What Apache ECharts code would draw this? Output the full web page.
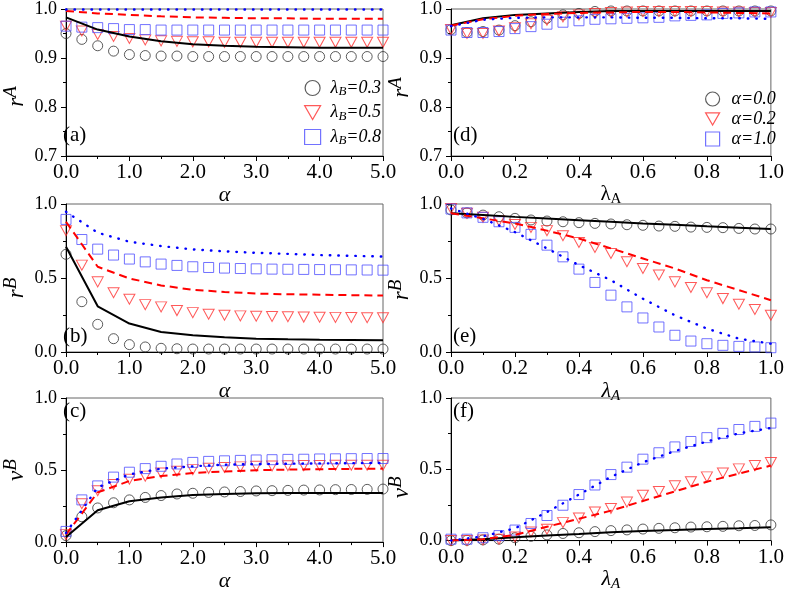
<!DOCTYPE html>
<html><head><meta charset="utf-8">
<script src="https://cdn.jsdelivr.net/npm/echarts@6/dist/echarts.min.js"></script>
<style>html,body{margin:0;padding:0;background:#fff}#c{width:787px;height:593px}</style>
</head><body><div id="c"></div>
<script>
// x positions
const alphaPts = [0,0.25,0.5,0.75,1,1.25,1.5,1.75,2,2.25,2.5,2.75,3,3.25,3.5,3.75,4,4.25,4.5,4.75,5];
const alphaLine = [0,0.5,1,1.5,2,2.5,3,3.5,4,4.5,5];
const lamPts = [0,0.05,0.1,0.15,0.2,0.25,0.3,0.35,0.4,0.45,0.5,0.55,0.6,0.65,0.7,0.75,0.8,0.85,0.9,0.95,1];
const lamLine = [0,0.1,0.2,0.3,0.4,0.5,0.6,0.7,0.8,0.9,1];

// tick labels
const alphaTicks = ['0.0','1.0','2.0','3.0','4.0','5.0'];
const lamTicks = ['0.0','0.2','0.4','0.6','0.8','1.0'];

// legends
const legendA = ['λB=0.3','λB=0.5','λB=0.8'];
const legendD = ['α=0.0','α=0.2','α=1.0'];

// panel (a) r^A vs alpha
const aCirc = [0.950,0.938,0.925,0.914,0.907,0.905,0.904,0.904,0.903,0.903,0.903,0.903,0.903,0.903,0.903,0.903,0.903,0.903,0.903,0.903,0.903];
const aTri  = [0.965,0.955,0.948,0.944,0.940,0.937,0.935,0.934,0.933,0.933,0.932,0.932,0.932,0.932,0.932,0.932,0.932,0.932,0.932,0.932,0.932];
const aSq   = [0.965,0.963,0.962,0.960,0.958,0.958,0.957,0.957,0.957,0.957,0.957,0.957,0.957,0.957,0.957,0.957,0.957,0.957,0.957,0.957,0.957];
const aSolid = [0.983,0.958,0.944,0.934,0.928,0.925,0.923,0.922,0.921,0.921,0.921];
const aDash  = [0.996,0.991,0.988,0.985,0.983,0.982,0.981,0.981,0.980,0.980,0.980];
const aDot   = [0.999,0.999,0.999,0.999,0.999,0.999,0.999,0.999,0.999,0.999,0.999];

// panel (b) r^B vs alpha
const bCirc = [0.66,0.34,0.187,0.09,0.05,0.034,0.025,0.022,0.02,0.02,0.02,0.02,0.02,0.02,0.02,0.02,0.02,0.02,0.02,0.02,0.02];
const bTri  = [0.82,0.587,0.474,0.40,0.357,0.32,0.305,0.28,0.266,0.255,0.248,0.244,0.242,0.24,0.238,0.236,0.235,0.234,0.233,0.232,0.232];
const bSq   = [0.896,0.76,0.695,0.655,0.628,0.609,0.594,0.585,0.576,0.571,0.567,0.564,0.562,0.560,0.559,0.558,0.557,0.556,0.555,0.554,0.553];
const bSolid = [0.711,0.309,0.192,0.135,0.113,0.10,0.09,0.086,0.083,0.081,0.079];
const bDash  = [0.88,0.576,0.497,0.45,0.42,0.406,0.395,0.39,0.387,0.384,0.381];
const bDot   = [0.948,0.806,0.745,0.716,0.693,0.68,0.67,0.663,0.655,0.65,0.645];

// panel (c) v^B vs alpha
const cCirc = [0.045,0.176,0.237,0.273,0.293,0.31,0.323,0.334,0.339,0.345,0.348,0.351,0.355,0.357,0.359,0.361,0.362,0.364,0.365,0.366,0.368];
const cTri  = [0.052,0.266,0.357,0.40,0.436,0.458,0.48,0.492,0.503,0.512,0.518,0.522,0.526,0.528,0.53,0.531,0.532,0.533,0.533,0.533,0.533];
const cSq   = [0.074,0.293,0.39,0.451,0.485,0.51,0.526,0.542,0.553,0.56,0.564,0.567,0.57,0.572,0.574,0.575,0.577,0.578,0.579,0.58,0.58];
const cSolid = [0.036,0.221,0.284,0.31,0.327,0.334,0.339,0.34,0.341,0.341,0.341];
const cDash  = [0.052,0.345,0.424,0.458,0.48,0.49,0.499,0.503,0.506,0.508,0.51];
const cDot   = [0.063,0.38,0.47,0.51,0.526,0.537,0.542,0.544,0.546,0.548,0.549];

// panel (d) r^A vs lambda_A
const dCirc = [0.958,0.952,0.954,0.957,0.966,0.974,0.981,0.988,0.991,0.995,0.996,0.996,0.996,0.996,0.996,0.996,0.996,0.996,0.996,0.996,0.996];
const dTri  = [0.958,0.950,0.950,0.955,0.962,0.970,0.977,0.984,0.988,0.991,0.993,0.994,0.995,0.995,0.995,0.995,0.995,0.994,0.994,0.993,0.993];
const dSq   = [0.957,0.952,0.952,0.954,0.960,0.964,0.969,0.973,0.976,0.979,0.980,0.981,0.982,0.983,0.986,0.987,0.988,0.991,0.992,0.994,0.994];
const dSolid = [0.967,0.981,0.988,0.991,0.994,0.996,0.996,0.996,0.996,0.996,0.996];
const dDash  = [0.966,0.979,0.986,0.990,0.992,0.993,0.994,0.994,0.993,0.992,0.991];
const dDot   = [0.965,0.978,0.982,0.983,0.983,0.983,0.982,0.982,0.981,0.981,0.980];

// panel (e) r^B vs lambda_A
const eCirc = [0.96,0.94,0.925,0.914,0.903,0.892,0.885,0.88,0.874,0.869,0.865,0.86,0.856,0.851,0.849,0.844,0.842,0.84,0.835,0.831,0.831];
const eTri  = [0.97,0.937,0.91,0.887,0.862,0.842,0.82,0.786,0.74,0.707,0.666,0.61,0.564,0.52,0.474,0.436,0.40,0.361,0.323,0.287,0.248];
const eSq   = [0.966,0.94,0.91,0.88,0.842,0.795,0.722,0.643,0.56,0.47,0.384,0.305,0.23,0.169,0.113,0.074,0.056,0.045,0.038,0.034,0.029];
const eSolid = [0.937,0.925,0.913,0.902,0.891,0.88,0.869,0.859,0.849,0.84,0.831];
const eDash  = [0.937,0.903,0.869,0.82,0.767,0.70,0.632,0.564,0.485,0.418,0.35];
const eDot   = [0.97,0.9,0.81,0.70,0.587,0.485,0.36,0.248,0.158,0.09,0.056];

// panel (f) v^B vs lambda_A
const fCirc = [0,0.002,0.005,0.01,0.02,0.03,0.04,0.05,0.055,0.063,0.07,0.075,0.081,0.086,0.09,0.095,0.097,0.1,0.104,0.106,0.11];
const fTri  = [0,0,0.005,0.01,0.025,0.06,0.08,0.126,0.158,0.2,0.225,0.27,0.318,0.345,0.384,0.413,0.447,0.474,0.503,0.526,0.548];
const fSq   = [0.01,0.01,0.02,0.035,0.074,0.12,0.176,0.248,0.323,0.39,0.463,0.515,0.571,0.616,0.657,0.695,0.722,0.752,0.779,0.801,0.824];
const fSolid = [0,0.01,0.023,0.036,0.047,0.059,0.068,0.074,0.081,0.086,0.093];
const fDash  = [0,0.01,0.04,0.097,0.153,0.21,0.278,0.345,0.413,0.47,0.526];
const fDot   = [0,0.03,0.086,0.2,0.323,0.447,0.549,0.628,0.695,0.752,0.79];

const FONT = '"Liberation Serif", "Times New Roman", Times, "DejaVu Serif", serif';
const C_CIRC = '#333333', C_TRI = '#ff3030', C_SQ = '#4f4fff';
const TRI_DOWN = 'path://M0,0 L10,0 L5,8.7 Z';

const panels = [
  {pts: alphaPts, line: alphaLine, ticks: alphaTicks, ymin: 0.7, ymax: 1.0, yint: 0.1, data: [aCirc,aTri,aSq,aSolid,aDash,aDot], names: legendA, xname: 'alpha', yname: ['r','A'], yshift: 14, label: '(a)', lx: 63, ly: 137},
  {pts: alphaPts, line: alphaLine, ticks: alphaTicks, ymin: 0, ymax: 1.0, yint: 0.5, data: [bCirc,bTri,bSq,bSolid,bDash,bDot], names: ['b1','b2','b3'], xname: 'alpha', yname: ['r','B'], yshift: 10, label: '(b)', lx: 63, ly: 338},
  {pts: alphaPts, line: alphaLine, ticks: alphaTicks, ymin: 0, ymax: 1.0, yint: 0.5, data: [cCirc,cTri,cSq,cSolid,cDash,cDot], names: ['c1','c2','c3'], xname: 'alpha', yname: ['v','B'], yshift: 0, label: '(c)', lx: 63, ly: 413},
  {pts: lamPts, line: lamLine, ticks: lamTicks, ymin: 0.7, ymax: 1.0, yint: 0.1, data: [dCirc,dTri,dSq,dSolid,dDash,dDot], names: legendD, xname: 'lamUp', yname: ['r','A'], yshift: 5, label: '(d)', lx: 453, ly: 137},
  {pts: lamPts, line: lamLine, ticks: lamTicks, ymin: 0, ymax: 1.0, yint: 0.5, data: [eCirc,eTri,eSq,eSolid,eDash,eDot], names: ['e1','e2','e3'], xname: 'lamIt', yname: ['r','B'], yshift: 12, label: '(e)', lx: 453, ly: 338},
  {pts: lamPts, line: lamLine, ticks: lamTicks, ymin: 0, ymax: 1.0, yint: 0.5, data: [fCirc,fTri,fSq,fSolid,fDash,fDot], names: ['f1','f2','f3'], xname: 'lamIt', yname: ['v','B'], yshift: 18, label: '(f)', lx: 453, ly: 413}
];

const gridPos = [
  {left: 61, top: 9, width: 322, height: 147},
  {left: 61, top: 204, width: 322, height: 148},
  {left: 61, top: 398, width: 322, height: 148},
  {left: 451, top: 9, width: 323, height: 147},
  {left: 451, top: 204, width: 323, height: 148},
  {left: 451, top: 398, width: 323, height: 148}
];

const grid = [], xAxis = [], yAxis = [], series = [], graphic = [];

const xNameText = {
  alpha: '{i|α}',
  lamUp: '{u|λ}{us|A}',
  lamIt: '{i|λ}{is|A}'
};
const nameRich = {
  i: {fontFamily: FONT, fontStyle: 'italic', fontSize: 22, color: '#000'},
  u: {fontFamily: FONT, fontSize: 21, color: '#000'},
  us: {fontFamily: FONT, fontSize: 15, color: '#000', padding: [10, 0, 0, 0]},
  is: {fontFamily: FONT, fontStyle: 'italic', fontSize: 15, color: '#000', padding: [10, 0, 0, 0]},
  r: {fontFamily: FONT, fontStyle: 'italic', fontSize: 23, color: '#000'},
  p: {fontFamily: FONT, fontStyle: 'italic', fontSize: 19, color: '#000', padding: [0, 0, 12, 0]}
};

panels.forEach((p, k) => {
  grid.push(Object.assign({show: true, borderColor: '#666', borderWidth: 1, backgroundColor: 'transparent'}, gridPos[k]));
  const isAlpha = p.ticks === alphaTicks;
  xAxis.push({
    type: 'value', gridIndex: k, min: 0, max: isAlpha ? 5 : 1, interval: isAlpha ? 1 : 0.2,
    axisLine: {show: true, onZero: false, lineStyle: {color: '#000', width: 1}},
    axisTick: {show: true, inside: false, length: 5, lineStyle: {color: '#000'}},
    minorTick: {show: true, splitNumber: 2, length: 3, lineStyle: {color: '#000'}},
    splitLine: {show: false},
    axisLabel: {
      fontFamily: FONT, fontSize: 21, color: '#000', margin: 6,
      formatter: function (v) {
        const idx = Math.round(v / (isAlpha ? 1 : 0.2));
        return p.ticks[idx];
      }
    },
    name: xNameText[p.xname], nameLocation: 'middle', nameGap: 15,
    nameTextStyle: {rich: nameRich}
  });
  yAxis.push({
    type: 'value', gridIndex: k, min: p.ymin, max: p.ymax, interval: p.yint,
    axisLine: {show: true, onZero: false, lineStyle: {color: '#000', width: 1}},
    axisTick: {show: true, inside: false, length: 5, lineStyle: {color: '#000'}},
    minorTick: {show: true, splitNumber: 2, length: 3, lineStyle: {color: '#000'}},
    splitLine: {show: false},
    axisLabel: {fontFamily: FONT, fontSize: 18, color: '#000', margin: 9, formatter: v => v.toFixed(1)},
    name: '{r|' + p.yname[0] + '}{p|' + p.yname[1] + '}', nameLocation: 'middle', nameGap: 34, nameRotate: 90,
    nameTextStyle: {rich: nameRich, padding: [0, 2 * p.yshift, 0, 0]}
  });
  const toPairs = (xs, ys) => xs.map((x, i) => [x, ys[i]]);
  const sc = [
    {sym: 'circle', col: C_CIRC, size: 10},
    {sym: TRI_DOWN, col: C_TRI, size: [11, 10]},
    {sym: 'rect', col: C_SQ, size: 10}
  ];
  sc.forEach((s, j) => {
    series.push({
      type: 'scatter', name: p.names[j], xAxisIndex: k, yAxisIndex: k,
      symbol: s.sym, symbolSize: s.size,
      itemStyle: {color: 'rgba(255,255,255,0)', borderColor: s.col, borderWidth: 1},
      data: toPairs(p.pts, p.data[j]), silent: true, z: 2
    });
  });
  const ls = [
    {col: '#000000', type: 'solid', w: 2, cap: 'butt'},
    {col: '#ff0000', type: [8, 5], w: 2, cap: 'butt'},
    {col: '#0000ff', type: [0.5, 8], w: 2.4, cap: 'round'}
  ];
  ls.forEach((l, j) => {
    series.push({
      type: 'line', name: 'L' + k + j, xAxisIndex: k, yAxisIndex: k,
      showSymbol: false, symbol: 'none', smooth: false,
      lineStyle: {color: l.col, type: l.type, width: l.w, cap: l.cap},
      data: toPairs(p.line, p.data[3 + j]), silent: true, z: 3
    });
  });
  graphic.push({
    type: 'text', left: p.lx, top: p.ly - 12,
    style: {text: p.label, fontFamily: FONT, fontSize: 21, fill: '#000'}
  });
});

const legendFmtA = name => '{f|λ}{s|B}{l|' + name.slice(2) + '}';
const legendRich = {
  f: {fontFamily: FONT, fontStyle: 'italic', fontSize: 18, color: '#000', padding: [0, 0, 0, 5], lineHeight: 20},
  l: {fontFamily: FONT, fontStyle: 'italic', fontSize: 18, color: '#000', lineHeight: 20},
  s: {fontFamily: FONT, fontStyle: 'italic', fontSize: 13, color: '#000', padding: [8, 0, 0, 0]}
};
const legend = [
  {orient: 'vertical', itemWidth: 16, itemHeight: 15, selectedMode: false, itemStyle: {borderWidth: 1.2},
   data: legendA, left: 299, top: 74, itemGap: 5, formatter: legendFmtA,
   textStyle: {fontFamily: FONT, fontStyle: 'italic', fontSize: 18, color: '#000', rich: legendRich}},
  {orient: 'vertical', itemWidth: 14, itemHeight: 14, selectedMode: false, itemStyle: {borderWidth: 1.2},
   data: legendD, left: 700, top: 85, itemGap: 2, formatter: n => '{f|' + n + '}',
   textStyle: {fontFamily: FONT, fontStyle: 'italic', fontSize: 18, color: '#000', lineHeight: 18,
     rich: {f: {fontFamily: FONT, fontStyle: 'italic', fontSize: 18, color: '#000', padding: [0, 0, 0, 7], lineHeight: 18}}}}
];

const chart = echarts.init(document.getElementById('c'), null, {renderer: 'canvas'});
chart.setOption({
  animation: false,
  backgroundColor: '#fff',
  grid, xAxis, yAxis, series, legend, graphic
});
</script></body></html>
